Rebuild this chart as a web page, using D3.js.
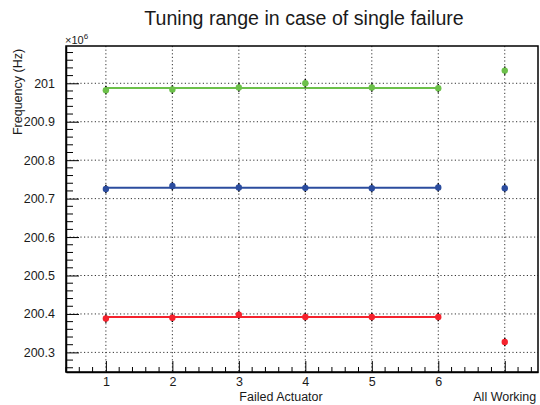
<!DOCTYPE html>
<html>
<head>
<meta charset="utf-8">
<script src="https://cdn.jsdelivr.net/npm/d3@7"></script>
<style>
  body { margin: 0; background: #fff; }
  svg { font-family: "Liberation Sans", Arial, sans-serif; }
  .grid line { stroke: #000; stroke-width: 0.8; stroke-dasharray: 1.2,2.4; }
</style>
</head>
<body>
<svg id="chart" width="540" height="405"></svg>
<script>
// Tuning range per failed actuator, frequencies in MHz (x10^6 Hz)
const xPositions = [1, 2, 3, 4, 5, 6, 7];
const xTickLabels = ['1', '2', '3', '4', '5', '6', ''];
const yTickValues = [200.3, 200.4, 200.5, 200.6, 200.7, 200.8, 200.9, 201];

const greenValues = [200.982, 200.984, 200.989, 201.000, 200.989, 200.987, 201.033];
const blueValues = [200.725, 200.733, 200.729, 200.728, 200.727, 200.729, 200.727];
const redValues = [200.388, 200.390, 200.398, 200.392, 200.392, 200.392, 200.327];
const errValues = [0.011, 0.011, 0.011, 0.011, 0.011, 0.011, 0.011];

const greenFit = 200.988;
const blueFit = 200.728;
const redFit = 200.392;

const series = [
  { name: 'green', values: greenValues, fit: greenFit, color: '#6cc04a' },
  { name: 'blue', values: blueValues, fit: blueFit, color: '#2b4c9e' },
  { name: 'red', values: redValues, fit: redFit, color: '#f5222d' }
];

const TXT = '#1a1a1a';
const M = { top: 46, right: 2, bottom: 33, left: 66 };
const W = 540 - M.left - M.right;
const H = 405 - M.top - M.bottom;

const svg = d3.select('#chart');
const g = svg.append('g').attr('transform', `translate(${M.left},${M.top})`);

const x = d3.scaleLinear().domain([0.4, 7.5]).range([0, W]);
const y = d3.scaleLinear().domain([200.249, 201.097]).range([H, 0]);

// grid
g.append('g').attr('class', 'grid')
  .selectAll('line').data(xPositions).join('line')
  .attr('x1', d => x(d)).attr('x2', d => x(d))
  .attr('y1', 0).attr('y2', H);
g.append('g').attr('class', 'grid')
  .selectAll('line').data(yTickValues).join('line')
  .attr('x1', 0).attr('x2', W)
  .attr('y1', d => y(d)).attr('y2', d => y(d));

// minor ticks
const xMinor = d3.range(0.4, 7.5, 0.2).filter(v => Math.abs(v - Math.round(v)) > 0.01);
g.append('g').selectAll('line').data(xMinor).join('line')
  .attr('x1', d => x(d)).attr('x2', d => x(d))
  .attr('y1', H).attr('y2', H - 5)
  .attr('stroke', '#000').attr('stroke-width', 1);
const yMinor = d3.range(200.26, 201.1, 0.02).filter(v => Math.abs(v * 10 - Math.round(v * 10)) > 0.01);
g.append('g').selectAll('line').data(yMinor).join('line')
  .attr('x1', 0).attr('x2', 7)
  .attr('y1', d => y(d)).attr('y2', d => y(d))
  .attr('stroke', '#000').attr('stroke-width', 1);

// axes
const xAxis = d3.axisBottom(x).tickValues(xPositions)
  .tickFormat((d, i) => xTickLabels[i]).tickSizeInner(-11).tickSizeOuter(0).tickPadding(5);
const yAxis = d3.axisLeft(y).tickValues(yTickValues)
  .tickFormat(d => d3.format('')(+d.toFixed(1))).tickSizeInner(-13).tickSizeOuter(0).tickPadding(11);

const gx = g.append('g').attr('transform', `translate(0,${H})`).call(xAxis);
const gy = g.append('g').call(yAxis);
[gx, gy].forEach(a => {
  a.select('.domain').attr('stroke', '#000').attr('stroke-width', 1.5);
  a.selectAll('.tick line').attr('stroke', '#000').attr('stroke-width', 1);
  a.selectAll('.tick text').attr('font-size', 12.5).attr('fill', TXT);
});

// frame
g.append('rect').attr('width', W).attr('height', H)
  .attr('fill', 'none').attr('stroke', '#000').attr('stroke-width', 1.5);

// fit lines
series.forEach(s => {
  g.append('line')
    .attr('x1', x(1)).attr('x2', x(6))
    .attr('y1', y(s.fit)).attr('y2', y(s.fit))
    .attr('stroke', s.color).attr('stroke-width', 2);
});

// error bars and points
series.forEach(s => {
  const pts = xPositions.map((xv, i) => ({ x: xv, v: s.values[i], e: errValues[i] }));
  g.append('g').selectAll('line').data(pts).join('line')
    .attr('x1', d => x(d.x)).attr('x2', d => x(d.x))
    .attr('y1', d => y(d.v - d.e)).attr('y2', d => y(d.v + d.e))
    .attr('stroke', '#000').attr('stroke-width', 1.5);
  g.append('g').selectAll('circle').data(pts).join('circle')
    .attr('cx', d => x(d.x)).attr('cy', d => y(d.v))
    .attr('r', 3.2).attr('fill', s.color);
});

// texts
svg.append('text').attr('x', 304).attr('y', 25).attr('text-anchor', 'middle')
  .attr('font-size', 19.6).attr('fill', TXT).text('Tuning range in case of single failure');
svg.append('text').attr('x', 281).attr('y', 401).attr('text-anchor', 'middle')
  .attr('font-size', 12.5).attr('fill', TXT).text('Failed Actuator');
svg.append('text').attr('x', x(7) + M.left).attr('y', 401).attr('text-anchor', 'middle')
  .attr('font-size', 12.5).attr('fill', TXT).text('All Working');
svg.append('text').attr('transform', 'translate(22,92) rotate(-90)').attr('text-anchor', 'middle')
  .attr('font-size', 12.5).attr('fill', TXT).text('Frequency (Hz)');
const mult = svg.append('text').attr('x', 65).attr('y', 44).attr('font-size', 11).attr('fill', TXT);
mult.append('tspan').text('\u00d710');
mult.append('tspan').attr('dy', -5).attr('font-size', 8).text('6');
</script>
</body>
</html>
